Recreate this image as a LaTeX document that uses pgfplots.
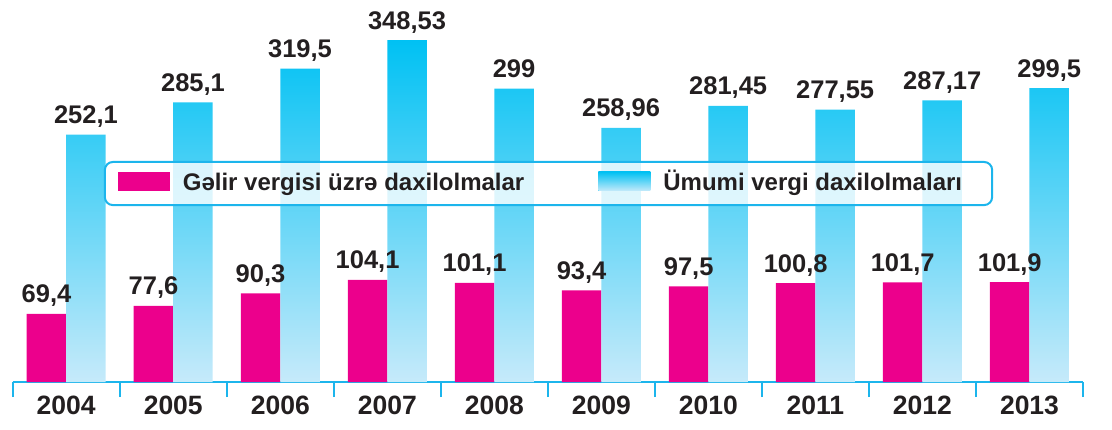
\documentclass[border=0pt]{standalone}
\usepackage{pgfplots}
\pgfplotsset{compat=1.18}
\usepackage{pgfplotstable}
\usepackage{fontspec}
\setmainfont{Liberation Sans}
\definecolor{pinkc}{HTML}{EC008C}
\definecolor{cyanTop}{HTML}{00C1F3}
\definecolor{cyanBot}{HTML}{C6EAFA}
\definecolor{axcyan}{HTML}{1CB5EC}
\definecolor{txt}{HTML}{231F20}
\pgfplotstableread{
x g gl u ul
0 69.4 69,4 252.1 252,1
1 77.6 77,6 285.1 285,1
2 90.3 90,3 319.5 319,5
3 104.1 104,1 348.53 348,53
4 101.1 101,1 299 299
5 93.4 93,4 258.96 258,96
6 97.5 97,5 281.45 281,45
7 100.8 100,8 277.55 277,55
8 101.7 101,7 287.17 287,17
9 101.9 101,9 299.5 299,5
}\data
\begin{document}
\begin{tikzpicture}
\begin{axis}[
  scale only axis, width=1070.3pt, height=382pt,
  xmin=-0.5, xmax=9.5, ymin=0, ymax=389.4,
  axis x line=bottom, axis y line=none,
  x axis line style={draw=axcyan, line width=1.6pt, -},
  xtick={0,...,9},
  xticklabels={\textbf{2004},\textbf{2005},\textbf{2006},\textbf{2007},\textbf{2008},\textbf{2009},\textbf{2010},\textbf{2011},\textbf{2012},\textbf{2013}},
  major tick length=0pt,
  minor xtick={-0.5,0.5,...,9.5}, minor tick length=15pt, tick align=outside,
  tick style={draw=axcyan, line width=1.6pt},
  xticklabel style={font=\fontsize{26.5}{30}\selectfont\bfseries, text=txt, yshift=-10pt},
  clip=false,
  every node near coord/.append style={font=\fontsize{25.5}{30}\selectfont\bfseries, text=txt, anchor=base, yshift=11pt},
  legend columns=2,
  legend cell align=left,
  legend style={at={(0.5006,0.5196)}, anchor=center, draw=axcyan, line width=2pt,
    rounded corners=8pt, fill=white, fill opacity=0.8, text opacity=1,
    inner xsep=13pt, inner ysep=10pt,
    font=\fontsize{24}{28}\selectfont\bfseries, text=txt,
    nodes={inner sep=0pt, text height=18pt, text depth=5pt},
    /tikz/every odd column/.append style={column sep=13pt},
    /tikz/every even column/.append style={column sep=74pt}},
]
\addplot[ybar, bar width=39.5pt, bar shift=-19.75pt, fill=pinkc, draw=none,
  nodes near coords, point meta=explicit symbolic,
  every node near coord/.append style={xshift=-19.75pt},
  legend image code/.code={\fill[pinkc, sharp corners, fill opacity=1] (0pt,-7.4pt) rectangle (52pt,11.6pt);}]
  table[x=x, y=g, meta=gl] {\data};
\addlegendentry{Gəlir vergisi üzrə daxilolmalar}
\addplot[ybar, bar width=39.5pt, bar shift=19.75pt, top color=cyanTop, bottom color=cyanBot, draw=none,
  nodes near coords, point meta=explicit symbolic,
  every node near coord/.append style={xshift=19.75pt},
  legend image code/.code={\fill[cyanTop, sharp corners, fill opacity=1] (0pt,-7.4pt) rectangle (52pt,11.6pt);}]
  table[x=x, y=u, meta=ul] {\data};
\addlegendentry{Ümumi vergi daxilolmaları\hspace*{17pt}}
\path (rel axis cs:0,0) -- ++(-12.7pt,-47pt);
\path (rel axis cs:1,1) -- ++(29pt,0pt);
\end{axis}
\end{tikzpicture}
\end{document}
